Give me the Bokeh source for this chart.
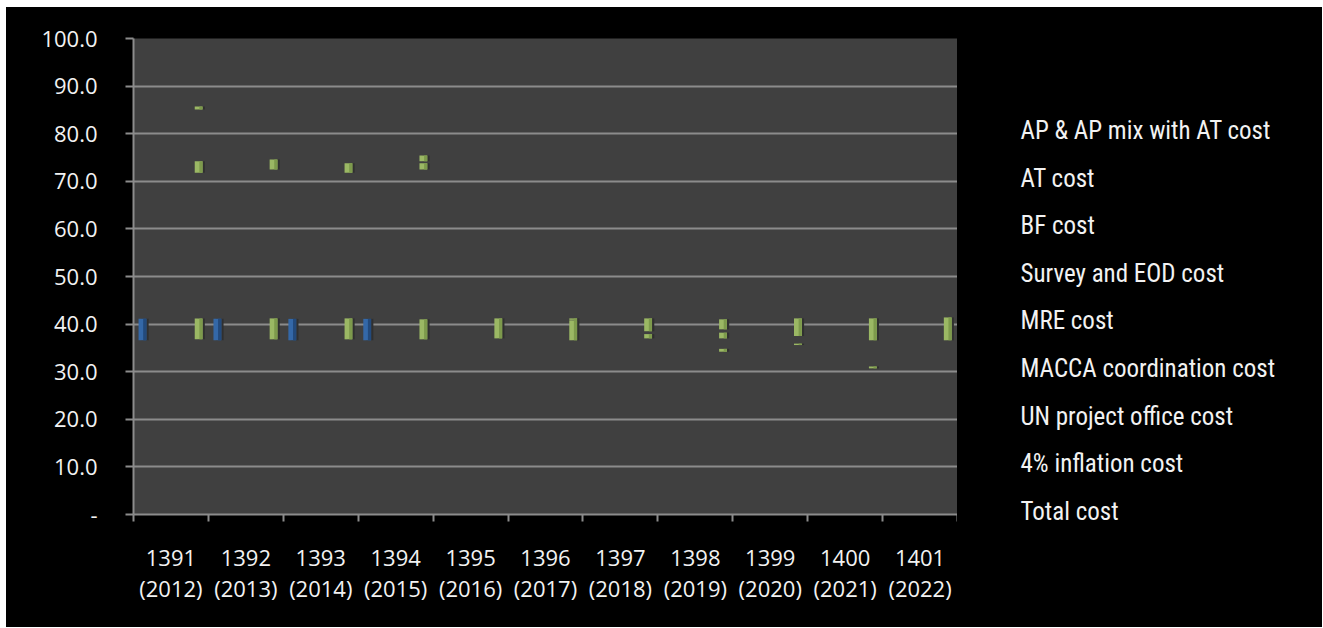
from bokeh.plotting import figure
from bokeh.layouts import row
from bokeh.models import Range1d, FixedTicker, PrintfTickFormatter, ColumnDataSource
from bokeh.transform import dodge
from bokeh.embed import file_html
from bokeh.resources import INLINE

# ---------------- data ----------------
years_sh = ["1391", "1392", "1393", "1394", "1395", "1396", "1397", "1398", "1399", "1400", "1401"]
years_g = ["(2012)", "(2013)", "(2014)", "(2015)", "(2016)", "(2017)", "(2018)", "(2019)", "(2020)", "(2021)", "(2022)"]

series_names = ["AP & AP mix with AT cost", "AT cost", "BF cost", "Survey and EOD cost",
                "MRE cost", "MACCA coordination cost", "UN project office cost",
                "4% inflation cost", "Total cost"]

y_ticks = [0, 10, 20, 30, 40, 50, 60, 70, 80, 90, 100]

# blue floating columns (category index, bottom, top)
blue_cat = [0, 1, 2, 3]
blue_low = [36.6, 36.6, 36.6, 36.6]
blue_high = [41.1, 41.1, 41.1, 41.1]

# green floating column pieces (category index, bottom, top)
green_cat = [0, 0, 0,
             1, 1,
             2, 2,
             3, 3, 3,
             4,
             5, 5,
             6, 6,
             7, 7, 7,
             8, 8,
             9, 9,
             10]
green_low = [36.8, 71.8, 85.1,
             36.8, 72.5,
             36.8, 71.8,
             36.8, 72.5, 74.2,
             37.0,
             36.6, 40.9,
             37.0, 38.5,
             34.2, 37.0, 38.9,
             35.6, 37.5,
             30.7, 36.6,
             36.6]
green_high = [41.2, 74.2, 85.7,
              41.2, 74.6,
              41.2, 73.8,
              41.0, 73.8, 75.4,
              41.2,
              40.8, 41.2,
              37.9, 41.2,
              34.8, 38.2, 41.0,
              35.9, 41.2,
              31.1, 41.2,
              41.4]

# ---------------- styling ----------------
BLUE_OFF = 0.12
GREEN_OFF = 0.87
BAR_W = 0.105
GRID = "#8c8c8c"
TXT = "#f2f2f2"
AXIS_FONT = "'Open Sans', 'Noto Sans', sans-serif"
LEG_FONT = "'Liberation Sans Narrow', 'Roboto Condensed', 'DejaVu Sans Condensed', sans-serif"

n = len(years_sh)
p = figure(width=951, height=620, output_backend="svg", toolbar_location=None,
           x_range=Range1d(0, n), y_range=Range1d(0, 100),
           min_border_left=127, min_border_right=0, min_border_top=31, min_border_bottom=113)
p.background_fill_color = "#404040"
p.border_fill_color = "black"
p.outline_line_color = None

blue_src = ColumnDataSource(dict(x=[c + BLUE_OFF for c in blue_cat], bottom=blue_low, top=blue_high))
green_src = ColumnDataSource(dict(x=[c + GREEN_OFF for c in green_cat], bottom=green_low, top=green_high))

# shadows
p.vbar(x=dodge("x", 0.035), bottom="bottom", top="top", width=BAR_W * 0.9, source=blue_src,
       fill_color="#303030", line_color=None)
p.vbar(x=dodge("x", 0.035), bottom="bottom", top="top", width=BAR_W * 0.9, source=green_src,
       fill_color="#303030", line_color=None)
# main columns
p.vbar(x="x", bottom="bottom", top="top", width=BAR_W, source=blue_src,
       fill_color="#3468a8", line_color=None)
p.vbar(x=dodge("x", 0.03), bottom="bottom", top="top", width=BAR_W * 0.4, source=blue_src,
       fill_color="#234a7c", line_color=None)
p.vbar(x="x", bottom="bottom", top="top", width=BAR_W, source=green_src,
       fill_color="#9bb864", line_color=None)
p.vbar(x=dodge("x", 0.03), bottom="bottom", top="top", width=BAR_W * 0.4, source=green_src,
       fill_color="#7d9a4c", line_color=None)

# axes
xa = p.xaxis[0]
xa.ticker = FixedTicker(ticks=[i + 0.5 for i in range(n)], minor_ticks=list(range(n + 1)))
xa.major_label_overrides = {i + 0.5: f"{a}\n{b}" for i, (a, b) in enumerate(zip(years_sh, years_g))}
xa.major_tick_out = 0
xa.major_tick_in = 0
xa.minor_tick_out = 7
xa.minor_tick_in = 0
xa.minor_tick_line_color = GRID
xa.minor_tick_line_width = 2
xa.axis_line_color = GRID
xa.axis_line_width = 2
xa.major_label_text_font = AXIS_FONT
xa.major_label_text_font_size = "22px"
xa.major_label_text_line_height = 1.04
xa.major_label_text_color = TXT
xa.major_label_standoff = 20

ya = p.yaxis[0]
ya.ticker = FixedTicker(ticks=y_ticks)
ya.formatter = PrintfTickFormatter(format="%.1f")
ya.major_label_overrides = {0: "-"}
ya.major_tick_out = 8
ya.major_tick_in = 0
ya.minor_tick_line_color = None
ya.major_tick_line_color = GRID
ya.major_tick_line_width = 2
ya.axis_line_color = GRID
ya.axis_line_width = 2
ya.major_label_text_font = AXIS_FONT
ya.major_label_text_font_size = "22px"
ya.major_label_text_color = TXT
ya.major_label_standoff = 28

p.xgrid.grid_line_color = None
p.ygrid.grid_line_color = GRID
p.ygrid.grid_line_width = 2

# legend panel (text only, as in the reference): series names as labels of a bare axis
ROW_PX = 47.6
FIRST_ROW_PX = 92.0    # first row centre below the frame top (frame aligned with chart)
FRAME_H = 476
LEG_STANDOFF = 10
lg = figure(width=365, height=620, output_backend="svg", toolbar_location=None,
            x_range=Range1d(0, 1),
            y_range=Range1d(-FIRST_ROW_PX / ROW_PX + FRAME_H / ROW_PX, -FIRST_ROW_PX / ROW_PX),
            x_axis_location=None, y_axis_location="right",
            min_border_left=0, min_border_right=365 - 63 + LEG_STANDOFF,
            min_border_top=0, min_border_bottom=0)
lg.grid.visible = False
lg.outline_line_color = None
lg.background_fill_color = None
lg.border_fill_color = "black"
la = lg.yaxis[0]
la.ticker = FixedTicker(ticks=list(range(len(series_names))))
la.major_label_overrides = {i: name for i, name in enumerate(series_names)}
la.axis_line_color = None
la.major_tick_line_color = None
la.minor_tick_line_color = None
la.major_tick_out = 0
la.major_tick_in = 0
la.major_label_standoff = LEG_STANDOFF
la.major_label_text_font = LEG_FONT
la.major_label_text_font_size = "25px"
la.major_label_text_color = TXT

layout = row(p, lg)
layout.styles = {"margin-left": "6px", "margin-top": "7px", "background-color": "black"}

open("out.html", "w").write(file_html(layout, INLINE))
